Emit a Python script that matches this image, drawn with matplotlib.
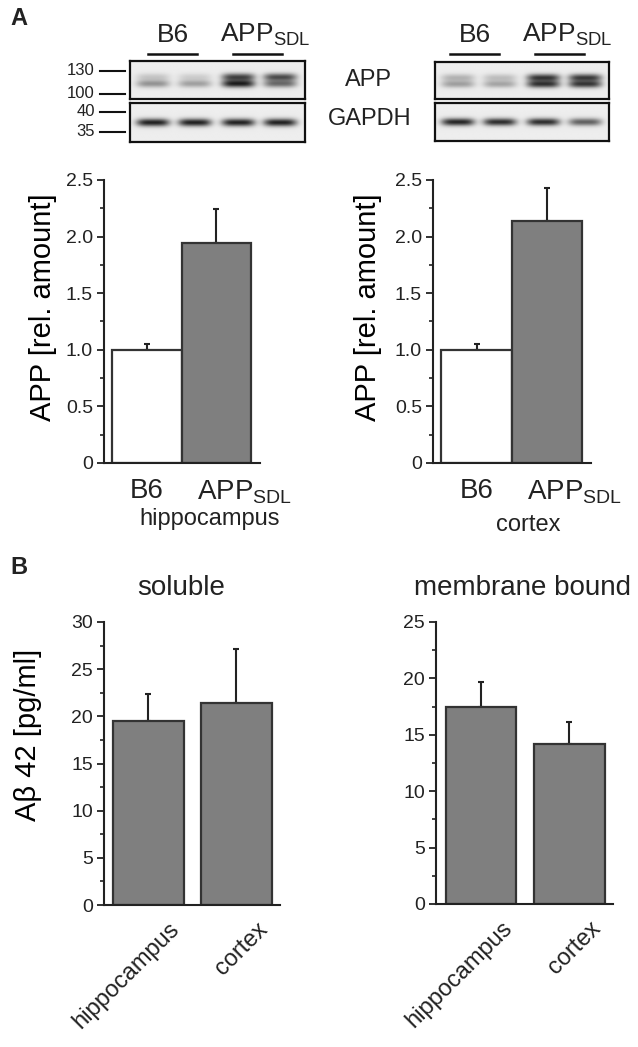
import numpy as np
import matplotlib.pyplot as plt
from matplotlib.transforms import ScaledTranslation

plt.rcParams['font.family'] = ['Liberation Sans', 'DejaVu Sans']
plt.rcParams['mathtext.fontset'] = 'custom'
plt.rcParams['mathtext.rm'] = 'Liberation Sans'
plt.rcParams['mathtext.it'] = 'Liberation Sans:italic'
plt.rcParams['mathtext.bf'] = 'Liberation Sans:bold'
plt.rcParams['text.color'] = '#222222'
plt.rcParams['axes.edgecolor'] = '#222222'
plt.rcParams['xtick.color'] = '#222222'
plt.rcParams['ytick.color'] = '#222222'

W, H = 638, 1047

# --- data ---
groups_a = ['B6', 'APP$_{\\mathrm{SDL}}$']
hippo_rel = [1.0, 1.94]
hippo_err = [0.05, 0.30]
cortex_rel = [1.0, 2.14]
cortex_err = [0.05, 0.29]
a_yticks = [0, 0.5, 1.0, 1.5, 2.0, 2.5]
a_ytick_labels = ['0', '0.5', '1.0', '1.5', '2.0', '2.5']

regions_b = ['hippocampus', 'cortex']
soluble_ab42 = [19.5, 21.4]
soluble_err = [2.9, 5.7]
membrane_ab42 = [17.5, 14.2]
membrane_err = [2.2, 1.9]

# western blot band strengths (0 = blank, 1 = black), lanes B6, B6, APP, APP
lane_pos = [0.13, 0.37, 0.62, 0.86]
app_left_upper = [0.15, 0.12, 0.65, 0.62]
app_left_lower = [0.35, 0.30, 0.80, 0.50]
gapdh_left = [0.80, 0.80, 0.80, 0.80]
app_right_upper = [0.22, 0.18, 0.70, 0.68]
app_right_lower = [0.30, 0.28, 0.72, 0.70]
gapdh_right = [0.78, 0.75, 0.75, 0.55]
markers_app = ['130', '100']
markers_gapdh = ['40', '35']


def px(x0, y0, x1, y1):
    return [x0 / W, 1 - y1 / H, (x1 - x0) / W, (y1 - y0) / H]


fig = plt.figure(figsize=(W / 100, H / 100), dpi=100)


def blot(rect, bands):
    ax = fig.add_axes(rect)
    xs = np.linspace(0, 1, 200)
    ys = np.linspace(0, 1, 60)
    X, Y = np.meshgrid(xs, ys)
    img = np.full(X.shape, 0.07)
    for yc, strengths in bands:
        for c, s in zip(lane_pos, strengths):
            img += s * np.exp(-((X - c) / 0.095) ** 4) * np.exp(-((Y - yc) / 0.1) ** 2)
    ax.imshow(np.clip(img, 0, 1), cmap='gray_r', vmin=0, vmax=1,
              extent=[0, 1, 1, 0], aspect='auto', interpolation='bilinear')
    ax.set_xticks([])
    ax.set_yticks([])
    for s in ax.spines.values():
        s.set_linewidth(1.6)
        s.set_color('#111111')
    return ax


# --- panel A blots ---
blot(px(130, 61, 305, 99), [(0.42, app_left_upper), (0.60, app_left_lower)])
blot(px(130, 103, 305, 142), [(0.50, gapdh_left)])
blot(px(435, 62, 609, 99), [(0.42, app_right_upper), (0.60, app_right_lower)])
blot(px(435, 103, 609, 141), [(0.50, gapdh_right)])

for lab, y in zip(markers_app + markers_gapdh, [71, 94, 112, 132]):
    fig.text(95 / W, 1 - y / H, lab, ha='right', va='center', fontsize=12)
    fig.add_artist(plt.Line2D([100 / W, 125 / W], [1 - y / H] * 2, color='#111111', lw=1.5))

for (b0, b1, a0, a1) in [(148, 197, 233, 282), (450, 499, 535, 584)]:
    fig.add_artist(plt.Line2D([b0 / W, b1 / W], [1 - 54 / H] * 2, color='#111111', lw=1.8))
    fig.add_artist(plt.Line2D([a0 / W, a1 / W], [1 - 54 / H] * 2, color='#111111', lw=1.8))
    fig.text((b0 + b1) / 2 / W, 1 - 42 / H, groups_a[0], ha='center', va='baseline', fontsize=19)
    fig.text((a0 - 13) / W, 1 - 42 / H, groups_a[1], ha='left', va='baseline', fontsize=19)

fig.text(368 / W, 1 - 80 / H, 'APP', ha='center', va='center', fontsize=17)
fig.text(370 / W, 1 - 119 / H, 'GAPDH', ha='center', va='center', fontsize=17)


def bar_panel(rect, values, errs, colors, width, xlim, ylim, yticks, ylabels, minor):
    ax = fig.add_axes(rect)
    pos = np.arange(len(values))
    ax.bar(pos, values, width=width, color=colors, edgecolor='#333333', linewidth=1.6, zorder=2)
    ax.errorbar(pos, values, yerr=[np.zeros(len(errs)), errs], fmt='none', ecolor='#222222',
                elinewidth=1.5, capsize=2, capthick=1.5, zorder=1)
    ax.set_xlim(*xlim)
    ax.set_ylim(*ylim)
    ax.set_yticks(yticks, labels=ylabels, fontsize=14)
    ax.set_yticks(minor, minor=True)
    ax.tick_params(axis='y', which='major', length=5, width=1.3, direction='out', pad=3)
    ax.tick_params(axis='y', which='minor', length=3, width=1.2, direction='out')
    ax.spines['top'].set_visible(False)
    ax.spines['right'].set_visible(False)
    ax.spines['left'].set_linewidth(1.5)
    ax.spines['bottom'].set_linewidth(1.5)
    ax.patch.set_alpha(0)
    return ax, pos


# --- panel A bar charts ---
for rect, vals, errs, region, rx, ry, ylx in [
        (px(104, 180, 260, 463), hippo_rel, hippo_err, 'hippocampus', 210, 508, -0.30),
        (px(433, 180, 591, 463), cortex_rel, cortex_err, 'cortex', 528, 514, -0.32)]:
    ax, pos = bar_panel(rect, vals, errs, ['white', '#7f7f7f'], 1.0, (-0.62, 1.63), (0, 2.5),
                        a_yticks, a_ytick_labels, np.arange(0.25, 2.5, 0.5))
    ax.set_xticks([])
    ax.annotate(groups_a[0], xy=(pos[0], 0), xycoords=('data', 'axes fraction'),
                xytext=(0, -11), textcoords='offset points', ha='center', va='top', fontsize=20)
    ax.annotate(groups_a[1], xy=(pos[1], 0), xycoords=('data', 'axes fraction'),
                xytext=(-14, -11), textcoords='offset points', ha='left', va='top', fontsize=20)
    fig.text(rx / W, 1 - ry / H, region, ha='center', va='top', fontsize=17)
    ax.set_ylabel('APP [rel. amount]', fontsize=21)
    ax.yaxis.set_label_coords(ylx, 0.55)

# --- panel B bar charts ---
b_specs = [
    (px(104, 622, 280, 905), soluble_ab42, soluble_err, (-0.505, 1.495), (0, 30),
     np.arange(0, 31, 5), np.arange(2.5, 30, 5), 'soluble', 0.44),
    (px(436, 622, 613, 904), membrane_ab42, membrane_err, (-0.51, 1.495), (0, 25),
     np.arange(0, 26, 5), np.arange(2.5, 25, 5), 'membrane bound', 0.49),
]
for i, (rect, vals, errs, xlim, ylim, yt, mn, title, tx) in enumerate(b_specs):
    ax, pos = bar_panel(rect, vals, errs, '#7f7f7f', 0.8, xlim, ylim,
                        yt, [str(v) for v in yt], mn)
    ax.set_xticks(pos, labels=regions_b, rotation=45, ha='right', va='top',
                  rotation_mode='anchor', fontsize=17)
    ax.tick_params(axis='x', length=0, pad=0)
    for lab in ax.get_xticklabels():
        lab.set_transform(lab.get_transform() + ScaledTranslation(20 / 100, -13 / 100, fig.dpi_scale_trans))
    ax.text(tx, 1.095, title, transform=ax.transAxes, ha='center', va='baseline', fontsize=20)
    if i == 0:
        ax.set_ylabel('A\u03b2 42 [pg/ml]', fontsize=21)
        ax.yaxis.set_label_coords(-0.35, 0.60)

fig.text(10 / W, 1 - 25 / H, 'A', fontsize=17, fontweight='bold', va='baseline')
fig.text(10 / W, 1 - 574 / H, 'B', fontsize=17, fontweight='bold', va='baseline')

fig.savefig('out.png', dpi=100)
